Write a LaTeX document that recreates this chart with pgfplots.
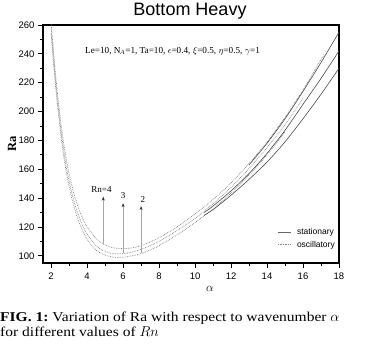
\documentclass[border=0pt]{standalone}
\usepackage{pgfplots}
\pgfplotsset{compat=1.18}
\usepackage{fontspec}
\setmainfont{Liberation Serif}
\setsansfont{Liberation Sans}
\newfontfamily\capfont[FakeStretch=1.15]{Liberation Serif}
\usetikzlibrary{arrows.meta}
\begin{document}
\begin{tikzpicture}[x=1pt,y=1pt]
\path[use as bounding box] (0,0) rectangle (391,351);
\begin{axis}[
  at={(43pt,88pt)}, anchor=south west,
  width=296pt, height=238pt, scale only axis,
  xmin=1.55, xmax=18, ymin=95, ymax=260,
  xtick={2,4,...,18}, ytick={100,120,...,260},
  minor x tick num=1, minor y tick num=1,
  xtick pos=left, ytick pos=left,
  tick align=outside,
  major tick length=5pt, minor tick length=3pt,
  axis line style={line width=1.1pt},
  every tick/.style={line width=0.8pt, black},
  ticklabel style={font=\sffamily\fontsize{9.5}{10}\selectfont},
  /pgf/number format/assume math mode=true,
  xticklabel style={yshift=-1pt},
  clip mode=individual,
]
% oscillatory
\addplot[gray, densely dotted, line width=0.7pt, smooth] coordinates {
(2.0,262)(2.2,232)(2.4,207)(2.6,187)(2.8,170)(3.0,157)(3.25,144)(3.5,134)(3.75,126)(4.0,120)(4.5,112)(5.0,107.5)(5.5,105.5)(6.0,105)(6.5,105.5)(7.0,107)(7.5,109.5)(8.0,112.5)(9.0,120)(10,129)(11,139)(12,150.5)(13,164)(14,179)(15,196)(16,215)(17,236)(17.2,240)};
\addplot[gray, densely dotted, line width=0.7pt, smooth] coordinates {
(2.0,258)(2.2,228)(2.4,203)(2.6,182)(2.8,165)(3.0,152)(3.25,139)(3.5,129)(3.75,121)(4.0,115)(4.5,107)(5.0,103)(5.5,101.5)(6.0,101.5)(6.5,102.5)(7.0,104.5)(7.5,107)(8.0,110)(9.0,117.5)(10,126)(11,136)(12,147.5)(13,160.5)(14,175)(15,191)(16,209)};
\addplot[gray, densely dotted, line width=0.7pt, smooth] coordinates {
(2.0,254)(2.2,224)(2.4,199)(2.6,178)(2.8,161)(3.0,148)(3.25,135)(3.5,125)(3.75,117.5)(4.0,111.5)(4.5,104)(5.0,100.5)(5.5,99)(6.0,99)(6.5,100)(7.0,101.5)(7.5,104)(8.0,107)(9.0,114.5)(10,123)(11,132.5)(12,143.5)(13,156)(14,170)(15,186)};
% stationary
\addplot[black!70, line width=0.6pt, smooth] coordinates {
(13,163)(14,178)(15,195)(16,214)(17,234)(18,255)};
\addplot[black!70, line width=0.6pt, smooth] coordinates {
(10.5,130)(11,134.5)(12,145)(13,157)(14,171)(15,187)(16,205)(17,223)(18,242)};
\addplot[black!70, line width=0.6pt, smooth] coordinates {
(10.5,128)(11,132)(12,142)(13,153)(14,165)(15,179)(16,195)(17,212)(18,230)};
% arrows
\draw[gray!70, line width=0.6pt, -{Stealth[length=4pt,width=3pt,black!80]}] (axis cs:4.9,108) -- (axis cs:4.9,141);
\draw[gray!70, line width=0.6pt, -{Stealth[length=4pt,width=3pt,black!80]}] (axis cs:6,102) -- (axis cs:6,136.5);
\draw[gray!70, line width=0.6pt, -{Stealth[length=4pt,width=3pt,black!80]}] (axis cs:7,102) -- (axis cs:7,134.5);
\node[font=\fontsize{9}{10}\selectfont, anchor=base] at (axis cs:4.8,144) {Rn=4};
\node[font=\fontsize{9}{10}\selectfont, anchor=base] at (axis cs:6,139.5) {3};
\node[font=\fontsize{9}{10}\selectfont, anchor=base] at (axis cs:7.1,137) {2};
\node[font=\fontsize{9.2}{10}\selectfont] at (axis cs:8.75,242) {Le=10, N$_{\!A}$=1, Ta=10, $\epsilon$=0.4, $\xi$=0.5, $\eta$=0.5, $\gamma$=1};
% legend
\draw[black!60, line width=0.7pt] (axis cs:14.6,116) -- (axis cs:15.35,116);
\node[font=\sffamily\fontsize{8.5}{9}\selectfont, anchor=west, inner sep=1pt] at (axis cs:15.6,116) {stationary};
\draw[gray, densely dotted, line width=0.7pt] (axis cs:14.6,107.6) -- (axis cs:15.35,107.6);
\node[font=\sffamily\fontsize{8.5}{9}\selectfont, anchor=west, inner sep=1pt] at (axis cs:15.6,107.6) {oscillatory};
\end{axis}
\node[font=\sffamily\fontsize{18}{19}\selectfont, anchor=base] at (190,335) {Bottom Heavy};
\node[font=\bfseries\fontsize{12.5}{13}\selectfont, rotate=90, anchor=base] at (16,207) {Ra};
\node[font=\fontsize{13}{14}\selectfont] at (210,62) {$\alpha$};
\node[font=\capfont\fontsize{13.5}{15}\selectfont, anchor=base west, inner sep=0pt] at (0,30) {\textbf{FIG. 1:}\ Variation of Ra with respect to wavenumber $\alpha$};
\node[font=\capfont\fontsize{13.5}{15}\selectfont, anchor=base west, inner sep=0pt] at (0,15) {for different values of $Rn$};
\end{tikzpicture}
\end{document}
